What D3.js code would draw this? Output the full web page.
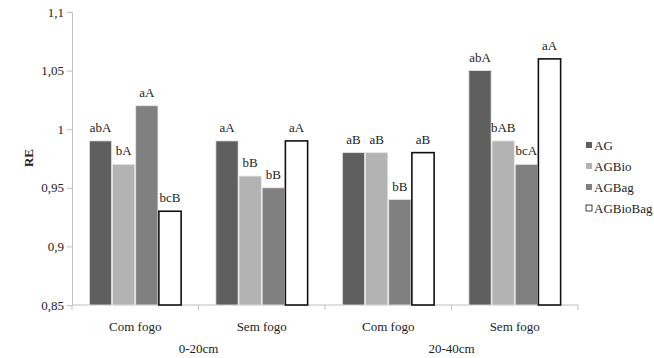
<!DOCTYPE html>
<html><head><meta charset="utf-8">
<script src="https://cdn.jsdelivr.net/npm/d3@7"></script>
<style>body{margin:0;background:#fff}svg{display:block}</style>
</head><body><svg id="c" width="654" height="358"></svg>
<script>
const categories = ["Com fogo","Sem fogo","Com fogo","Sem fogo"];
const depths = ["0-20cm","20-40cm"];
const series = ["AG","AGBio","AGBag","AGBioBag"];
const AG = [0.99,0.99,0.98,1.05];
const AGBio = [0.97,0.96,0.98,0.99];
const AGBag = [1.02,0.95,0.94,0.97];
const AGBioBag = [0.93,0.99,0.98,1.06];
const lblAG = ["abA","aA","aB","abA"];
const lblAGBio = ["bA","bB","aB","bAB"];
const lblAGBag = ["aA","bB","bB","bcA"];
const lblAGBioBag = ["bcB","aA","aB","aA"];
const yTicks = [0.85,0.9,0.95,1,1.05,1.1];

const vals = [AG,AGBio,AGBag,AGBioBag];
const lbls = [lblAG,lblAGBio,lblAGBag,lblAGBioBag];
const fills = ["#5f5f5f","#b3b3b3","#808080","#ffffff"];
const FONT = "'Liberation Serif', 'Times New Roman', 'DejaVu Serif', serif";

const svg = d3.select("#c");
const L=72,R=578,T=12,B=305;
const y = d3.scaleLinear().domain([0.85,1.1]).range([B,T]);
const x0 = d3.scaleBand().domain(d3.range(4)).range([L,R]).paddingInner(0).paddingOuter(0);
const x1 = d3.scaleBand().domain(d3.range(4)).range([0,x0.bandwidth()]).paddingInner(0.04).paddingOuter(0.75);
const fmt = d => String(d).replace(".",",");

const ya = svg.append("g").attr("transform",`translate(${L},0)`)
  .call(d3.axisLeft(y).tickValues(yTicks).tickFormat(fmt).tickSizeOuter(0).tickSize(5));
ya.select(".domain").attr("stroke","#bfbfbf");
ya.selectAll(".tick line").attr("stroke","#bfbfbf");
ya.selectAll(".tick text").attr("x",-8);

const xg = svg.append("g").attr("transform",`translate(0,${B})`);
xg.append("line").attr("x1",L).attr("x2",R).attr("stroke","#bfbfbf");
xg.selectAll(".tk").data(d3.range(5)).join("line")
  .attr("x1",i=>L+i*x0.bandwidth()).attr("x2",i=>L+i*x0.bandwidth())
  .attr("y1",0).attr("y2",5).attr("stroke","#bfbfbf");

const g = svg.append("g");
categories.forEach((c,ci)=>{
  series.forEach((s,si)=>{
    const xx = x0(ci)+x1(si), w = x1.bandwidth(), v = vals[si][ci];
    g.append("rect").attr("x",xx).attr("y",y(v)).attr("width",w).attr("height",B-y(v))
      .attr("fill",fills[si])
      .attr("stroke",si===3?"#111":"#e6e6e6")
      .attr("stroke-width",si===3?1.6:0.8);
    g.append("text").attr("x",xx+w/2).attr("y",y(v)-9).attr("text-anchor","middle").text(lbls[si][ci]);
  });
  svg.append("text").attr("x",x0(ci)+x0.bandwidth()/2).attr("y",331).attr("text-anchor","middle").text(c);
});
depths.forEach((d,i)=>{
  svg.append("text").attr("x",L+x0.bandwidth()*(1+2*i)).attr("y",353).attr("text-anchor","middle").text(d);
});
svg.append("text").attr("transform","translate(33,158) rotate(-90)").attr("text-anchor","middle")
  .style("font-weight","bold").text("RE");

series.forEach((s,i)=>{
  const yy = 146+i*21;
  svg.append("rect").attr("x",586).attr("y",yy-4).attr("width",6).attr("height",6)
    .attr("fill",fills[i]).attr("stroke",i===3?"#111":"none").attr("stroke-width",0.8);
  svg.append("text").attr("x",594).attr("y",yy+4).text(s);
});

svg.selectAll("text").style("font-family",FONT).style("font-size","13px").style("fill","#222");
</script></body></html>
